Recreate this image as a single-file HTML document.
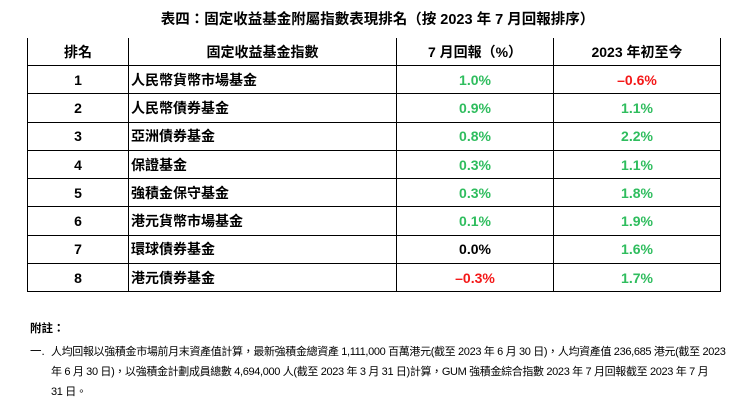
<!DOCTYPE html>
<html><head><meta charset="utf-8"><style>
body{margin:0;width:755px;height:409px;background:#fff;font-family:"Liberation Sans","Noto Sans CJK TC",sans-serif;color:#000;position:relative;overflow:hidden}
.t{position:absolute;top:10px;left:0;width:755px;text-align:center;font-weight:bold;font-size:14.5px;line-height:20px}
table{position:absolute;left:27px;top:38px;border-collapse:collapse;font-size:14px}
td,th{border:1.5px solid #000;height:27px;padding:0;text-align:center;font-weight:bold}
td{height:27.3px}
th{border-top:none}
.n{text-align:left;padding-left:2px}
.g{color:#2fbd5e}.r{color:#f41818}
.note{position:absolute;left:30px;font-size:11.5px;line-height:20px;white-space:nowrap}
</style></head><body>
<div class="t">表四：固定收益基金附屬指數表現排名（按 2023 年 7 月回報排序）</div>
<table>
<colgroup><col style="width:101px"><col style="width:268px"><col style="width:157px"><col style="width:167px"></colgroup>
<tr><th>排名</th><th>固定收益基金指數</th><th>7 月回報（%）</th><th>2023 年初至今</th></tr>
<tr><td>1</td><td class="n">人民幣貨幣市場基金</td><td class="g">1.0%</td><td class="r">–0.6%</td></tr>
<tr><td>2</td><td class="n">人民幣債券基金</td><td class="g">0.9%</td><td class="g">1.1%</td></tr>
<tr><td>3</td><td class="n">亞洲債券基金</td><td class="g">0.8%</td><td class="g">2.2%</td></tr>
<tr><td>4</td><td class="n">保證基金</td><td class="g">0.3%</td><td class="g">1.1%</td></tr>
<tr><td>5</td><td class="n">強積金保守基金</td><td class="g">0.3%</td><td class="g">1.8%</td></tr>
<tr><td>6</td><td class="n">港元貨幣市場基金</td><td class="g">0.1%</td><td class="g">1.9%</td></tr>
<tr><td>7</td><td class="n">環球債券基金</td><td>0.0%</td><td class="g">1.6%</td></tr>
<tr><td>8</td><td class="n">港元債券基金</td><td class="r">–0.3%</td><td class="g">1.7%</td></tr>
</table>
<div class="note" style="top:319px;font-weight:bold">附註：</div>
<div class="note" style="top:342px">一.</div>
<div class="note" style="top:342px;left:51px;font-size:11px;letter-spacing:-0.35px">人均回報以強積金市場前月末資產值計算，最新強積金總資產 1,111,000 百萬港元(截至 2023 年 6 月 30 日)，人均資產值 236,685 港元(截至 2023<br>年 6 月 30 日)，以強積金計劃成員總數 4,694,000 人(截至 2023 年 3 月 31 日)計算，GUM 強積金綜合指數 2023 年 7 月回報截至 2023 年 7 月<br>31 日。</div>
</body></html>
